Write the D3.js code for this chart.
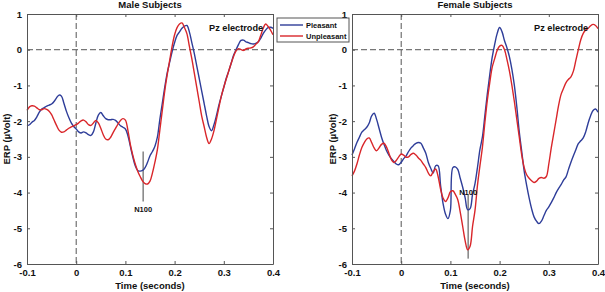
<!DOCTYPE html>
<meta charset="utf-8">
<script src="https://cdn.jsdelivr.net/npm/d3@7"></script>
<style>
  body { margin: 0; background: #fff; }
  svg text { font-family: "Liberation Sans", Arial, sans-serif; font-weight: bold; fill: #111; }
</style>
<div id="chart"></div>
<script>
// sampling grid (seconds)
var times = [-0.100, -0.095, -0.090, -0.085, -0.080, -0.075, -0.070, -0.065, -0.060, -0.055,
  -0.050, -0.045, -0.040, -0.035, -0.030, -0.025, -0.020, -0.015, -0.010, -0.005,
  0.000, 0.005, 0.010, 0.015, 0.020, 0.025, 0.030, 0.035, 0.040, 0.045,
  0.050, 0.055, 0.060, 0.065, 0.070, 0.075, 0.080, 0.085, 0.090, 0.095,
  0.100, 0.105, 0.110, 0.115, 0.120, 0.125, 0.130, 0.135, 0.140, 0.145,
  0.150, 0.155, 0.160, 0.165, 0.170, 0.175, 0.180, 0.185, 0.190, 0.195,
  0.200, 0.205, 0.210, 0.215, 0.220, 0.225, 0.230, 0.235, 0.240, 0.245,
  0.250, 0.255, 0.260, 0.265, 0.270, 0.275, 0.280, 0.285, 0.290, 0.295,
  0.300, 0.305, 0.310, 0.315, 0.320, 0.325, 0.330, 0.335, 0.340, 0.345,
  0.350, 0.355, 0.360, 0.365, 0.370, 0.375, 0.380, 0.385, 0.390, 0.395, 0.400];

var malePleasant = [-2.13, -2.10, -2.03, -1.98, -1.88, -1.75, -1.66, -1.62, -1.58, -1.55,
  -1.52, -1.45, -1.35, -1.27, -1.30, -1.50, -1.72, -1.90, -2.05, -2.15,
  -2.22, -2.30, -2.33, -2.30, -2.33, -2.38, -2.40, -2.30, -2.05, -1.83,
  -1.76, -1.85, -1.93, -1.96, -1.96, -1.95, -1.98, -2.05, -2.13, -2.17,
  -2.22, -2.40, -2.70, -3.00, -3.25, -3.38, -3.40, -3.38, -3.30, -3.15,
  -2.97, -2.85, -2.70, -2.45, -1.95, -1.50, -1.05, -0.65, -0.35, -0.05,
  0.20, 0.40, 0.50, 0.60, 0.66, 0.68, 0.50, 0.20, -0.10, -0.45,
  -0.80, -1.15, -1.50, -1.85, -2.15, -2.27, -2.10, -1.85, -1.55, -1.30,
  -1.05, -0.80, -0.60, -0.38, -0.15, 0.00, 0.15, 0.26, 0.27, 0.22,
  0.20, 0.17, 0.16, 0.18, 0.22, 0.32, 0.45, 0.55, 0.62, 0.63, 0.60];

var maleUnpleasant = [-1.70, -1.60, -1.57, -1.58, -1.63, -1.68, -1.68, -1.65, -1.67, -1.72,
  -1.82, -1.97, -2.12, -2.25, -2.31, -2.30, -2.25, -2.20, -2.16, -2.13,
  -2.10, -2.05, -1.99, -1.97, -2.02, -2.10, -2.12, -2.05, -1.98, -2.05,
  -2.20, -2.38, -2.50, -2.52, -2.45, -2.32, -2.20, -2.08, -1.98, -1.93,
  -1.97, -2.25, -2.65, -2.95, -3.20, -3.40, -3.55, -3.68, -3.75, -3.76,
  -3.68, -3.45, -3.15, -2.80, -2.25, -1.70, -1.15, -0.70, -0.30, 0.10,
  0.42, 0.62, 0.72, 0.75, 0.62, 0.45, 0.10, -0.25, -0.65, -1.05,
  -1.45, -1.85, -2.15, -2.45, -2.63, -2.50, -2.27, -1.95, -1.62, -1.30,
  -1.05, -0.82, -0.60, -0.38, -0.18, -0.03, 0.03, 0.00, -0.02, 0.02,
  0.04, 0.05, 0.08, 0.15, 0.22, 0.40, 0.60, 0.72, 0.65, 0.55, 0.42];

var femalePleasant = [-2.95, -2.78, -2.60, -2.45, -2.31, -2.24, -2.17, -2.05, -1.85, -1.78,
  -1.95, -2.20, -2.45, -2.65, -2.82, -2.95, -3.05, -3.13, -3.20, -3.22,
  -3.15, -3.05, -2.97, -2.85, -2.75, -2.68, -2.62, -2.60, -2.62, -2.75,
  -2.90, -3.15, -3.32, -3.45, -3.25, -3.25, -3.80, -4.30, -4.60, -4.73,
  -4.50, -3.30, -3.28, -3.35, -3.60, -3.85, -4.15, -4.48, -4.45, -4.05,
  -3.75, -3.30, -2.80, -2.45, -1.85, -1.24, -0.70, -0.21, 0.15, 0.45,
  0.62, 0.50, 0.25, 0.05, -0.20, -0.55, -1.00, -1.60, -2.30, -2.85,
  -3.40, -3.80, -4.15, -4.45, -4.68, -4.80, -4.87, -4.80, -4.65, -4.50,
  -4.40, -4.28, -4.15, -4.00, -3.88, -3.78, -3.65, -3.56, -3.35, -3.15,
  -2.97, -2.80, -2.63, -2.55, -2.47, -2.30, -2.05, -1.85, -1.70, -1.66, -1.75];

var femaleUnpleasant = [-3.53, -3.40, -3.20, -2.95, -2.74, -2.60, -2.50, -2.47, -2.60, -2.75,
  -2.83, -2.75, -2.65, -2.62, -2.72, -2.90, -3.08, -3.16, -3.10, -3.00,
  -2.92, -2.95, -3.01, -3.00, -2.93, -2.90, -2.95, -3.03, -3.10, -3.20,
  -3.30, -3.45, -3.53, -3.42, -3.34, -3.55, -3.90, -4.15, -4.25, -4.15,
  -3.98, -3.95, -4.05, -4.20, -4.55, -4.95, -5.35, -5.60, -5.50, -4.95,
  -4.50, -3.80, -3.25, -2.74, -2.05, -1.42, -0.92, -0.49, -0.25, -0.02,
  0.10, 0.12, 0.00, -0.28, -0.60, -1.00, -1.45, -1.95, -2.45, -2.95,
  -3.30, -3.50, -3.60, -3.67, -3.72, -3.68, -3.60, -3.58, -3.60, -3.55,
  -3.20, -2.75, -2.35, -1.95, -1.55, -1.25, -1.08, -0.92, -0.83, -0.76,
  -0.60, -0.30, 0.00, 0.28, 0.46, 0.55, 0.60, 0.67, 0.71, 0.68, 0.59];

var xTicks = [-0.1, 0, 0.1, 0.2, 0.3, 0.4];
var yTicks = [1, 0, -1, -2, -3, -4, -5, -6];
var seriesNames = ["Pleasant", "Unpleasant"];
var seriesColors = ["#2e3d99", "#d9262a"];

var W = 605, H = 292;
var svg = d3.select("#chart").append("svg")
    .attr("width", W)
    .attr("height", H);

var y = d3.scaleLinear().domain([-6, 1]).range([264, 14]);

// MATLAB prints plain hyphens
var fmtX = function(d) { return d === 0 ? "0" : d.toFixed(1).replace("\u2212", "-"); };
var fmtY = function(d) { return String(d); };

var panels = [
  { title: "Male Subjects", x0: 27, x1: 273, ylabX: 9.5, series: [malePleasant, maleUnpleasant],
    n100: { t: 0.136, top: -2.85, bottom: -4.25, label: -4.45 } },
  { title: "Female Subjects", x0: 352, x1: 598, ylabX: 336, series: [femalePleasant, femaleUnpleasant],
    n100: { t: 0.136, top: -4.05, bottom: -5.85, label: -3.98 } }
];

panels.forEach(function(p) {
  var x = d3.scaleLinear().domain([-0.1, 0.4]).range([p.x0, p.x1]);
  var g = svg.append("g");

  // dashed zero lines
  g.append("line")
      .attr("x1", x(-0.1)).attr("x2", x(0.4))
      .attr("y1", y(0)).attr("y2", y(0))
      .attr("stroke", "#555").attr("stroke-dasharray", "6,3");
  g.append("line")
      .attr("x1", x(0)).attr("x2", x(0))
      .attr("y1", y(1)).attr("y2", y(-6))
      .attr("stroke", "#555").attr("stroke-dasharray", "6,3");

  // N100 marker
  g.append("line")
      .attr("x1", x(p.n100.t)).attr("x2", x(p.n100.t))
      .attr("y1", y(p.n100.top)).attr("y2", y(p.n100.bottom))
      .attr("stroke", "#444").attr("stroke-width", 1);

  var line = d3.line()
      .x(function(d, i) { return x(times[i]); })
      .y(function(d) { return y(d); })
      .curve(d3.curveCatmullRom.alpha(0.5));

  p.series.forEach(function(s, k) {
    g.append("path")
        .datum(s)
        .attr("fill", "none")
        .attr("stroke", seriesColors[k])
        .attr("stroke-width", 1.4)
        .attr("d", line);
  });

  g.append("text")
      .attr("x", x(p.n100.t)).attr("y", y(p.n100.label) + 3)
      .attr("text-anchor", "middle")
      .attr("font-size", "7.5px")
      .text("N100");

  // axes (MATLAB style box with inward ticks)
  var bottom = g.append("g").attr("transform", "translate(0," + y(-6) + ")")
      .call(d3.axisBottom(x).tickValues(xTicks).tickSizeInner(-3).tickSizeOuter(0).tickFormat(fmtX));
  var top = g.append("g").attr("transform", "translate(0," + y(1) + ")")
      .call(d3.axisTop(x).tickValues(xTicks).tickSizeInner(-3).tickSizeOuter(0).tickFormat(""));
  var left = g.append("g").attr("transform", "translate(" + x(-0.1) + ",0)")
      .call(d3.axisLeft(y).tickValues(yTicks).tickSizeInner(-3).tickSizeOuter(0).tickFormat(fmtY));
  var right = g.append("g").attr("transform", "translate(" + x(0.4) + ",0)")
      .call(d3.axisRight(y).tickValues(yTicks).tickSizeInner(-3).tickSizeOuter(0).tickFormat(""));

  [bottom, top, left, right].forEach(function(a) {
    a.select(".domain").attr("stroke", "#555");
    a.selectAll(".tick line").attr("stroke", "#555");
    a.selectAll("text").attr("font-size", "9.5px").attr("font-family", null).attr("fill", "#111");
  });
  bottom.selectAll("text").attr("dy", "0.95em");
  left.selectAll("text").attr("x", -5);

  g.append("text")
      .attr("x", (p.x0 + p.x1) / 2).attr("y", 8)
      .attr("text-anchor", "middle").attr("font-size", "9.5px")
      .text(p.title);
  g.append("text")
      .attr("x", (p.x0 + p.x1) / 2).attr("y", 289)
      .attr("text-anchor", "middle").attr("font-size", "9.5px")
      .text("Time (seconds)");
  g.append("text")
      .attr("transform", "translate(" + p.ylabX + "," + ((y(1) + y(-6)) / 2) + ") rotate(-90)")
      .attr("text-anchor", "middle").attr("font-size", "9.5px")
      .text("ERP (\u00b5Volt)");
  g.append("text")
      .attr("x", x(0.38)).attr("y", y(0.62) + 3)
      .attr("text-anchor", "end").attr("font-size", "9.2px")
      .text("Pz electrode");
});

// legend
var lg = svg.append("g").attr("transform", "translate(277,18)");
lg.append("rect")
    .attr("width", 72).attr("height", 24)
    .attr("fill", "#fff").attr("stroke", "#555");
seriesNames.forEach(function(name, k) {
  lg.append("line")
      .attr("x1", 3).attr("x2", 26)
      .attr("y1", 7 + k * 11).attr("y2", 7 + k * 11)
      .attr("stroke", seriesColors[k]).attr("stroke-width", 1.4);
  lg.append("text")
      .attr("x", 29).attr("y", 10 + k * 11)
      .attr("font-size", "7.5px")
      .text(name);
});
</script>
